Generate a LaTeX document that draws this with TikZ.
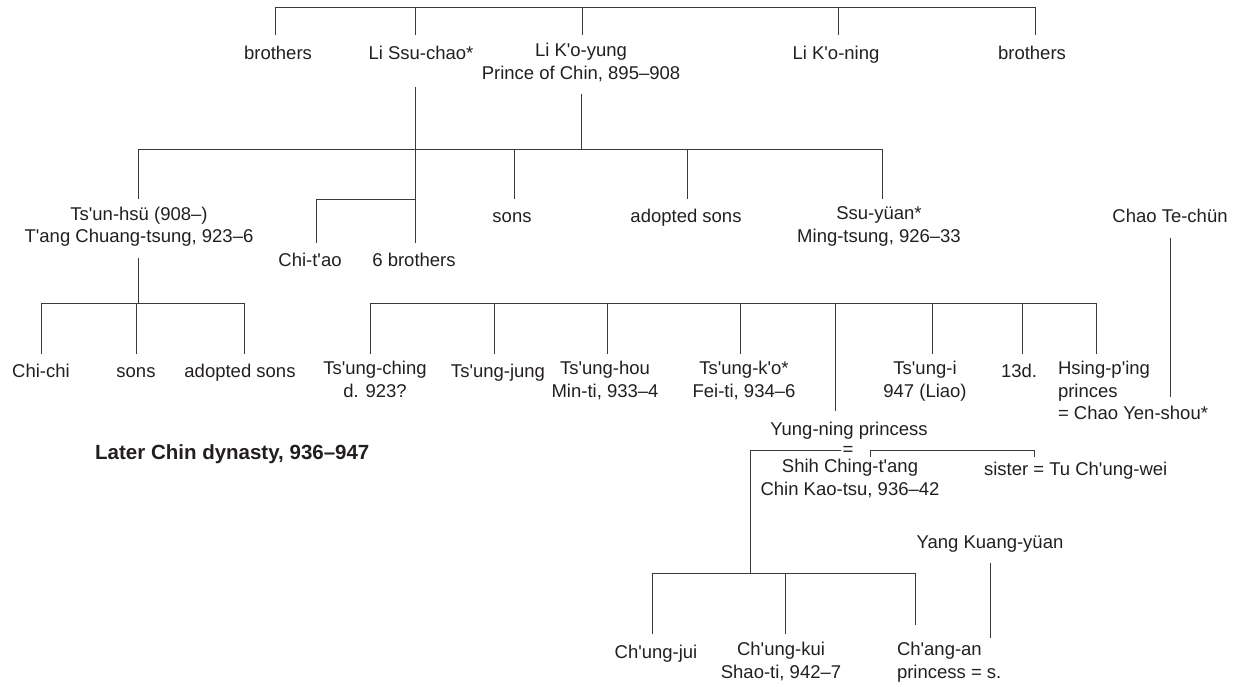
\documentclass[tikz,border=0pt]{standalone}
\usepackage{fontspec}
\setmainfont{Liberation Sans}[Ligatures=TeXOff]
\definecolor{ink}{HTML}{231F20}
\definecolor{wire}{HTML}{3A3A3A}
\newcommand{\apos}{'}
\begin{document}
\begin{tikzpicture}[x=1pt,y=-1pt,
  p/.style={inner sep=0pt, outer ysep=8pt, outer xsep=0pt, align=center, text=ink,
    font=\fontsize{18.5}{22.5}\selectfont, execute at begin node=\strut,
    execute at end node=\strut, anchor=north},
  pl/.style={p, align=left, anchor=north west},
  ln/.style={draw=wire, line width=1pt}]
\useasboundingbox (0,0) rectangle (1246,686);

% ---------- generation 1 ----------
\node[p] (b1)  at (278,35.25) {brothers};
\node[p] (lsc) at (421,35.25) {Li Ssu-chao*};
\node[p] (lky) at (581,35.25) {Li K'o-yung\\Prince of Chin, 895–908};
\node[p] (lkn) at (836,35.25) {Li K'o-ning};
\node[p] (b2)  at (1032,35.25) {brothers};

\coordinate (t0) at (275,7);
\coordinate (t1) at (1035,7);
\coordinate (ta) at (415,7);
\coordinate (tb) at (582,7);
\coordinate (tc) at (838,7);
\draw[ln] (t0 |- b1.north) -- (t0) -- (t1) -- (t1 |- b2.north);
\draw[ln] (ta) -- (ta |- lsc.north);
\draw[ln] (tb) -- (tb |- lky.north);
\draw[ln] (tc) -- (tc |- lkn.north);

% ---------- generation 2 ----------
\node[p] (tsh) at (139,199) {Ts'un-hsü (908–)\\T'ang Chuang-tsung, 923–6};
\node[p] (s1)  at (512,199) {sons};
\node[p] (as1) at (686,199) {adopted sons};
\node[p] (ssy) at (879,199) {Ssu-yüan*\\Ming-tsung, 926–33};
\node[p] (tcc) at (1170,199) {Chao Te-chün};
\node[p] (ct)  at (310,243) {Chi-t'ao};
\node[p] (sb)  at (414,243) {6 brothers};

\coordinate (lscb) at (415,87);
\coordinate (m0) at (138,149);
\coordinate (m1) at (882,149);
\coordinate (sj) at (514,149);
\coordinate (aj) at (687,149);
\coordinate (ctj) at (415,199);
\coordinate (ctc) at (316,199);
\draw[ln] (m0 |- tsh.north) -- (m0) -- (m1) -- (m1 |- ssy.north);
\draw[ln] (lky.south) -- (lky.south |- m0);
\draw[ln] (lscb) -- (lscb |- sb.north);
\draw[ln] (ctj) -- (ctc) -- (ctc |- ct.north);
\draw[ln] (sj) -- (sj |- s1.north);
\draw[ln] (aj) -- (aj |- as1.north);

% ---------- generation 3 (left) ----------
\node[p] (cc)  at (41,353.5) {Chi-chi};
\node[p] (cs)  at (136,353.5) {sons};
\node[p] (cas) at (240,353.5) {adopted sons};
\coordinate (c0) at (138,303);
\coordinate (cl) at (41,303);
\coordinate (cm) at (136,303);
\coordinate (cr) at (244,303);
\draw[ln] (c0 |- tsh.south) -- (c0);
\draw[ln] (cl |- cc.north) -- (cl) -- (cr) -- (cr |- cas.north);
\draw[ln] (cm) -- (cm |- cs.north);

% ---------- generation 3 (right) ----------
\node[p] (tcg) at (375,353.5) {Ts'ung-ching\\d. 923?};
\node[p] (tj)  at (498,353.5) {Ts'ung-jung};
\node[p] (th)  at (605,353.5) {Ts'ung-hou\\Min-ti, 933–4};
\node[p] (tk)  at (744,353.5) {Ts'ung-k'o*\\Fei-ti, 934–6};
\node[p] (ti)  at (925,353.5) {Ts'ung-i\\947 (Liao)};
\node[p] (td)  at (1019,353.5) {13d.};
\node[pl] (hp) at (1058,353.5) {Hsing-p'ing\\princes\\= Chao Yen-shou*};
\node[p] (yn)  at (849,411.25) {Yung-ning princess};

\coordinate (rl) at (370,303);
\coordinate (rr) at (1096,303);
\coordinate (r2) at (494,303);
\coordinate (r3) at (607,303);
\coordinate (r4) at (740,303);
\coordinate (r5) at (835,303);
\coordinate (r6) at (932,303);
\coordinate (r7) at (1022,303);
\draw[ln] (rl |- tcg.north) -- (rl) -- (rr) -- (rr |- hp.north);
\draw[ln] (r2) -- (r2 |- tj.north);
\draw[ln] (r3) -- (r3 |- th.north);
\draw[ln] (r4) -- (r4 |- tk.north);
\draw[ln] (r5) -- (r5 |- yn.north);
\draw[ln] (r6) -- (r6 |- ti.north);
\draw[ln] (r7) -- (r7 |- td.north);

\coordinate (cys) at (1170,397);
\draw[ln] (tcc.south) -- (cys);

% ---------- marriage and Later Chin ----------
\node[inner sep=0pt, text=ink, font=\fontsize{18.5}{22.5}\selectfont, anchor=base] (eq) at (848,455.5) {=};
\node[p] (sct) at (850,451.25) {Shih Ching-t'ang\\Chin Kao-tsu, 936–42};
\node[pl] (sis) at (984,451.25) {sister = Tu Ch'ung-wei};

\coordinate (lb1) at (841,450);
\coordinate (lb2) at (750,450);
\coordinate (rb1) at (870,457);
\coordinate (rb2) at (1034,457);
\draw[ln] (rb1) -- ++(0,-7) -| (rb2);

\node[inner sep=0pt, text=ink, font=\fontsize{20.5}{24}\selectfont\bfseries, anchor=base west] (title) at (95,459) {Later Chin dynasty, 936–947};

% ---------- generation 4 ----------
\node[p] (cj) at (656,634.25) {Ch'ung-jui};
\node[p] (ck) at (781,634.25) {Ch'ung-kui\\Shao-ti, 942–7};
\node[pl] (ca) at (897,634.25) {Ch'ang-an\\princess = s.};
\node[p] (yky) at (990,524.5) {Yang Kuang-yüan};

\coordinate (bbl) at (652,573);
\coordinate (bbm) at (785,573);
\coordinate (bbr) at (915,573);
\coordinate (car) at (915,625);
\draw[ln] (lb1) -- (lb2) -- (lb2 |- bbl);
\draw[ln] (bbl |- cj.north) -- (bbl) -- (bbr) -- (car);
\draw[ln] (bbm) -- (bbm |- ck.north);

\coordinate (yke) at (990,638);
\draw[ln] (yky.south) -- (yke);
\end{tikzpicture}
\end{document}
